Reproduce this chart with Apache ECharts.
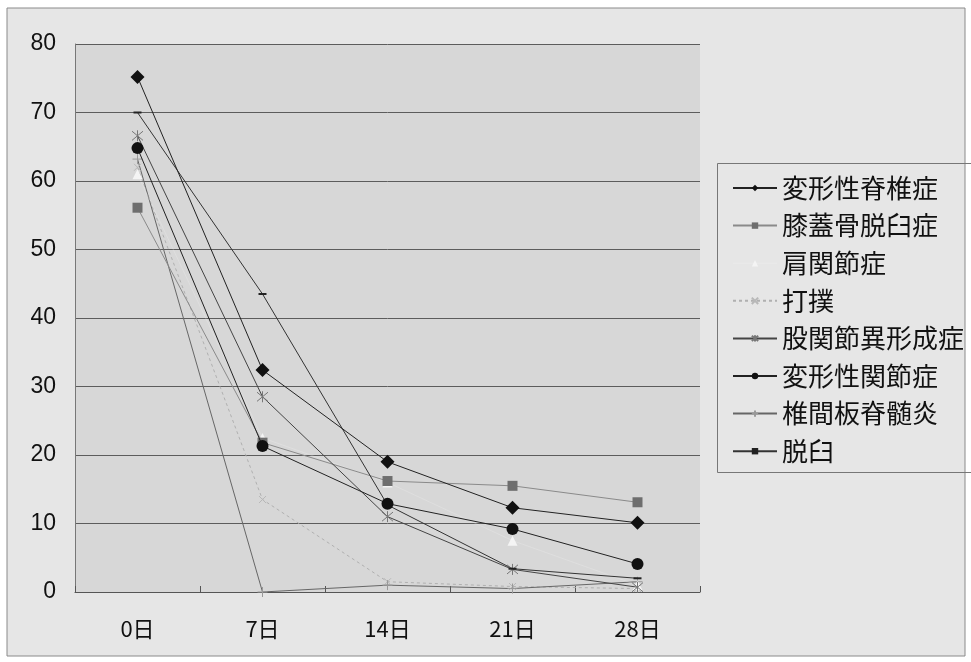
<!DOCTYPE html>
<html>
<head>
<meta charset="utf-8">
<script src="https://cdn.jsdelivr.net/npm/echarts@6/dist/echarts.min.js"></script>
<style>html,body{margin:0;padding:0;background:#fff}#c{width:971px;height:662px}</style>
</head>
<body>
<div id="c"></div>
<script>
const categories = ['0日', '7日', '14日', '21日', '28日'];
const yTicks = [0, 10, 20, 30, 40, 50, 60, 70, 80];
const names = ['変形性脊椎症', '膝蓋骨脱臼症', '肩関節症', '打撲', '股関節異形成症', '変形性関節症', '椎間板脊髄炎', '脱臼'];
const s_hensei_sekitsui = [75.2, 32.4, 19.0, 12.3, 10.1];
const s_shitsugai = [56.1, 21.8, 16.2, 15.5, 13.1];
const s_kata = [61.0, 22.5, 16.0, 7.5, 1.0];
const s_dabo = [62.0, 13.5, 1.5, 0.8, 0.5];
const s_kokansetsu = [66.6, 28.5, 11.0, 3.3, 0.7];
const s_hensei_kansetsu = [64.8, 21.3, 12.9, 9.2, 4.1];
const s_tsuikanban = [63.2, 0.0, 1.0, 0.5, 1.5];
const s_dakkyu = [70.0, 43.5, 12.7, 3.4, 2.0];

const FONT = '"Liberation Sans", "Noto Sans CJK JP", sans-serif';
const X_PATH = 'path://M0,0L10,10M10,0L0,10';
const STAR_PATH = 'path://M0,0L10,10M10,0L0,10M5,-1L5,11';
const PLUS_PATH = 'path://M5,0L5,10M0,5L10,5';

function mk(name, data, o) {
  return {
    name: name, type: 'line', data: data,
    symbol: o.symbol, symbolSize: o.size,
    lineStyle: { color: o.line, width: o.lw || 1, type: o.dash || 'solid', opacity: o.lo == null ? 1 : o.lo },
    itemStyle: { color: o.fill, borderColor: o.stroke || o.fill, borderWidth: o.bw || 0 },
    emphasis: { disabled: true },
    z: o.z || 2
  };
}

const series = [
  mk(names[0], s_hensei_sekitsui, { symbol: 'diamond', size: 14, line: '#222', fill: '#111', z: 5 }),
  mk(names[1], s_shitsugai, { symbol: 'rect', size: 10, line: '#8a8a8a', fill: '#6e6e6e', z: 4 }),
  mk(names[2], s_kata, { symbol: 'triangle', size: 10, line: '#f2f2f2', lo: 0.25, fill: '#f4f4f4', z: 3 }),
  mk(names[3], s_dabo, { symbol: X_PATH, size: 7, line: '#b0b0b0', dash: [3, 3], fill: 'none', stroke: '#b8b8b8', bw: 1, z: 2 }),
  mk(names[4], s_kokansetsu, { symbol: STAR_PATH, size: 11, line: '#444', fill: 'none', stroke: '#777', bw: 1, z: 4 }),
  mk(names[5], s_hensei_kansetsu, { symbol: 'circle', size: 12, line: '#222', fill: '#111', z: 5 }),
  mk(names[6], s_tsuikanban, { symbol: PLUS_PATH, size: 10, line: '#666', fill: 'none', stroke: '#999', bw: 1, z: 2 }),
  mk(names[7], s_dakkyu, { symbol: 'rect', size: [8, 2], line: '#333', fill: '#222', z: 4 })
];

const chart = echarts.init(document.getElementById('c'), null, { renderer: 'canvas' });
chart.setOption({
  backgroundColor: '#ffffff',
  animation: false,
  textStyle: { fontFamily: FONT },
  graphic: [
    { type: 'rect', z: -10, shape: { x: 7, y: 8, width: 958, height: 648 },
      style: { fill: '#e6e6e6', stroke: '#8a8a8a', lineWidth: 1 } },
    { type: 'rect', z: -5, shape: { x: 717.5, y: 163.5, width: 270, height: 309 },
      style: { fill: 'none', stroke: '#777', lineWidth: 1 } }
  ],
  grid: { left: 75, right: 271, top: 44, bottom: 70, show: true, backgroundColor: '#d7d7d7', borderWidth: 0 },
  legend: {
    orient: 'vertical', left: 727, top: 169,
    data: names,
    itemWidth: 44, itemHeight: 8, itemGap: 9.6,
    textStyle: { fontSize: 26, lineHeight: 28, color: '#111', fontFamily: '"Noto Sans CJK JP", sans-serif' },
    selectedMode: false,
    inactiveColor: '#ccc'
  },
  xAxis: {
    type: 'category', data: categories, boundaryGap: true,
    axisLine: { lineStyle: { color: '#555', width: 1 } },
    axisTick: { show: true, inside: true, length: 6, alignWithLabel: false, lineStyle: { color: '#555' } },
    axisLabel: { fontSize: 22, color: '#111', margin: 26, fontFamily: '"Noto Sans CJK JP", sans-serif' },
    splitLine: { show: false }
  },
  yAxis: {
    type: 'value', min: yTicks[0], max: yTicks[yTicks.length - 1], interval: 10,
    axisLine: { show: true, lineStyle: { color: '#777', width: 1 } },
    axisTick: { show: false },
    axisLabel: { fontSize: 23, color: '#111', margin: 19, fontFamily: FONT },
    splitLine: { show: true, lineStyle: { color: '#5c5c5c', width: 1 } }
  },
  series: series
});
</script>
</body>
</html>
